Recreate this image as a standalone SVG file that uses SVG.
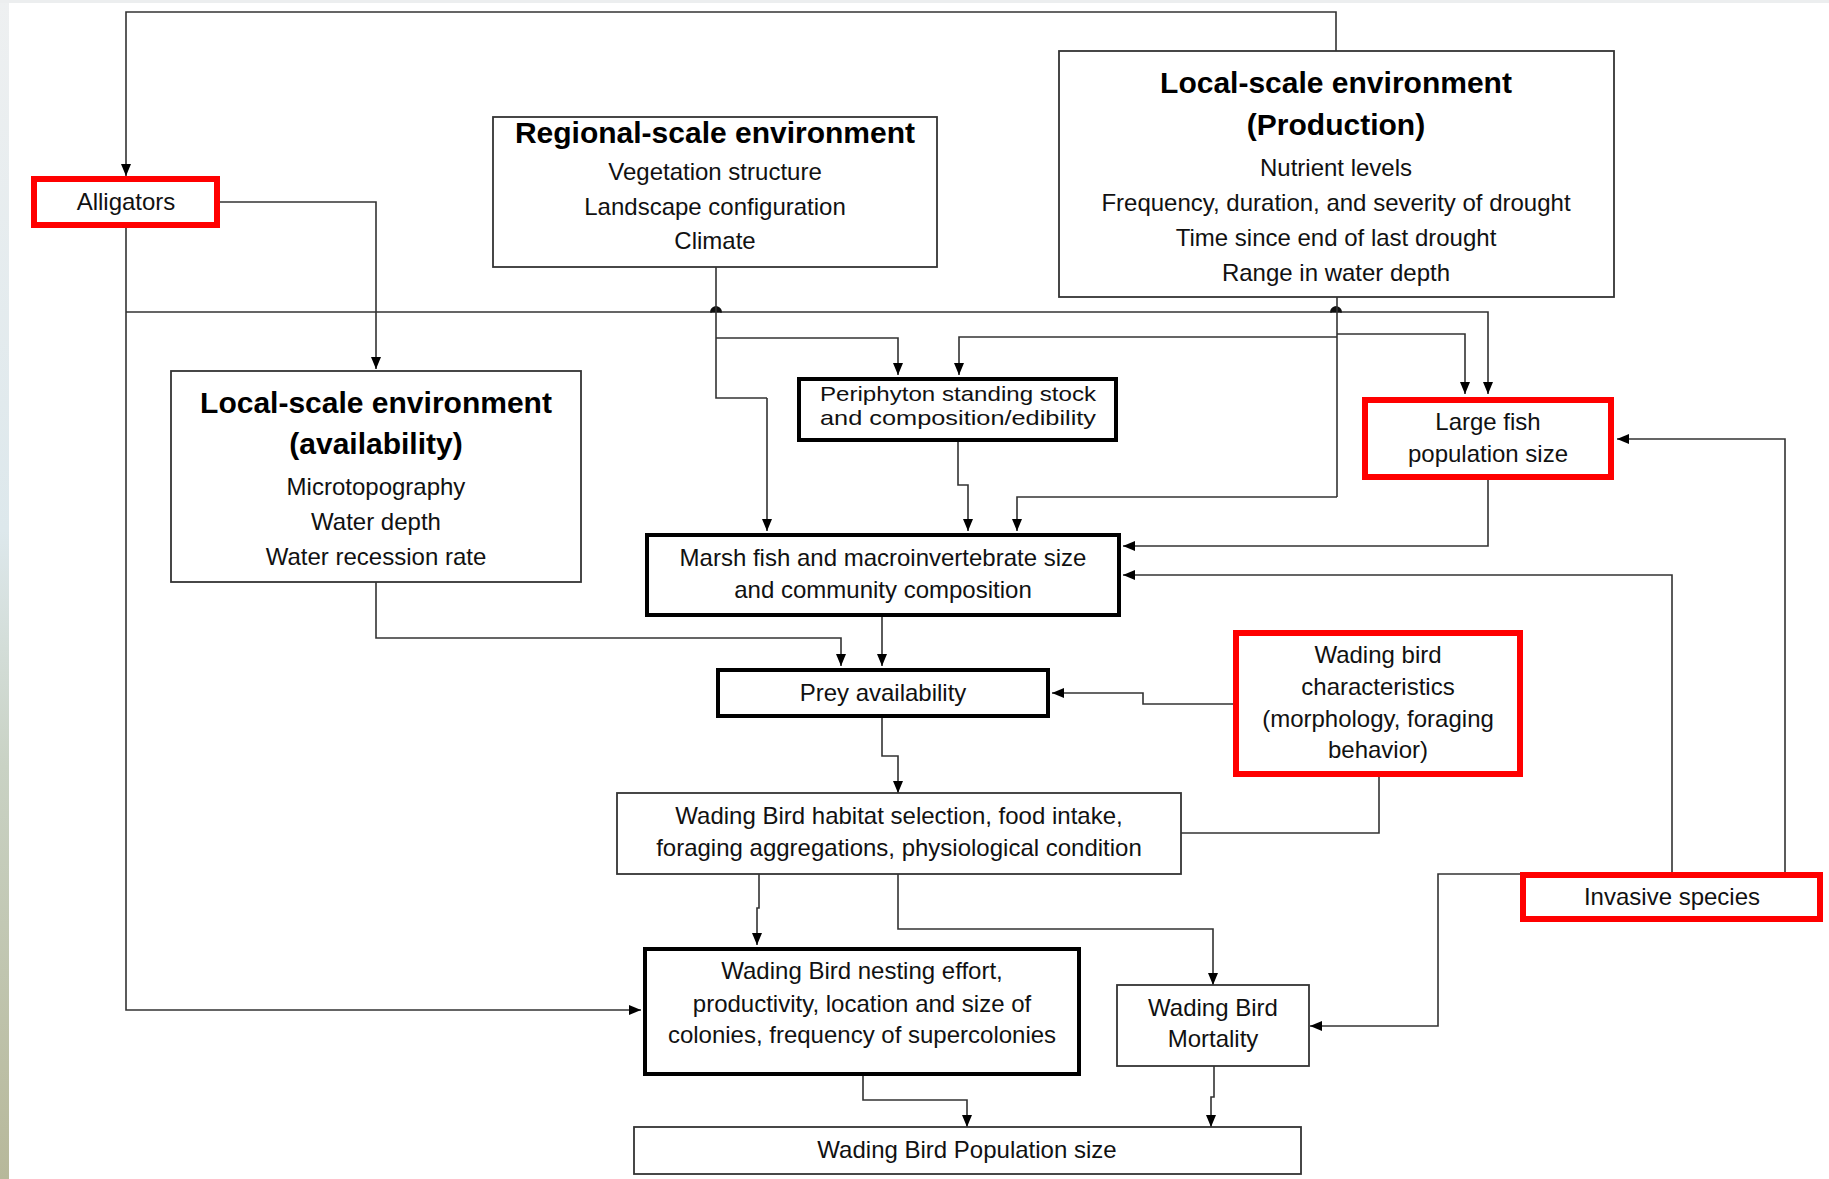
<svg xmlns="http://www.w3.org/2000/svg" width="1829" height="1179" viewBox="0 0 1829 1179">
<defs>
<marker id="arr" markerUnits="userSpaceOnUse" markerWidth="12" markerHeight="12" viewBox="0 0 12 12" refX="12" refY="6" orient="auto">
<path d="M0,1 L12,6 L0,11 Z" fill="#000"/>
</marker>
<linearGradient id="edge" x1="0" y1="0" x2="0" y2="1">
<stop offset="0" stop-color="#eef0f1"/>
<stop offset="0.45" stop-color="#dde8ec"/>
<stop offset="0.65" stop-color="#c9d2c4"/>
<stop offset="1" stop-color="#b7b89a"/>
</linearGradient>
</defs>
<style>
.thin{fill:#fff;stroke:#333;stroke-width:1.8}
.thick{fill:#fff;stroke:#000;stroke-width:4}
.red{fill:#fff;stroke:#ff0000;stroke-width:6}
.t{font-family:"Liberation Sans",Arial,sans-serif;font-size:24px;fill:#111;text-anchor:middle}
.p{font-family:"Liberation Sans",Arial,sans-serif;font-size:21px;fill:#111;text-anchor:middle}
.b{font-family:"Liberation Sans",Arial,sans-serif;font-size:30px;font-weight:bold;fill:#000;text-anchor:middle}
.c{fill:none;stroke:#333;stroke-width:1.6}
.a{marker-end:url(#arr)}
.hop{fill:#111;stroke:#111;stroke-width:1.5}
</style>
<rect x="0" y="0" width="1829" height="1179" fill="#fff"/>
<rect x="0" y="0" width="9" height="1179" fill="url(#edge)"/>
<rect x="0" y="0" width="1829" height="3" fill="#eceeef"/>

<g id="connectors">
<path class="c a" d="M1336,51 V12 H126 V176"/>
<path class="c a" d="M220,202 H376 V369"/>
<path class="c a" d="M126,228 V1010 H641"/>
<path class="c a" d="M126,312 H711 A5,5 0 0 1 721,312 H1331 A5,5 0 0 1 1341,312 H1488 V394"/>
<path class="hop" d="M711,312 A5,5 0 0 1 721,312 Z"/>
<path class="hop" d="M1331,312 A5,5 0 0 1 1341,312 Z"/>
<path class="c" d="M716,267 V398 H767"/>
<path class="c a" d="M767,398 V531"/>
<path class="c a" d="M716,338 H898 V375"/>
<path class="c" d="M1337,297 V497"/>
<path class="c a" d="M1337,337 H959 V375"/>
<path class="c a" d="M1337,334 H1465 V394"/>
<path class="c a" d="M1337,497 H1017 V531"/>
<path class="c a" d="M958,442 V485 H968 V531"/>
<path class="c a" d="M1488,480 V546 H1123"/>
<path class="c a" d="M1672,872 V575 H1123"/>
<path class="c a" d="M1785,872 V439 H1617"/>
<path class="c a" d="M1565,874 H1438 V1026 H1310"/>
<path class="c a" d="M376,582 V638 H841 V666"/>
<path class="c a" d="M882,617 V666"/>
<path class="c a" d="M1233,704 H1143 V693 H1052"/>
<path class="c a" d="M882,718 V756 H898 V793"/>
<path class="c" d="M1379,777 V833 H1181"/>
<path class="c a" d="M759,874 V908 H757 V945"/>
<path class="c a" d="M898,874 V929 H1213 V985"/>
<path class="c a" d="M863,1076 V1100 H967 V1127"/>
<path class="c a" d="M1214,1066 V1097 H1211 V1127"/>
</g>

<g id="alligators">
<rect class="red" x="34" y="179" width="183" height="46"/>
<text class="t" x="126" y="210">Alligators</text>
</g>

<g id="regional">
<rect class="thin" x="493" y="117" width="444" height="150"/>
<text class="b" x="715" y="143">Regional-scale environment</text>
<text class="t" x="715" y="180">Vegetation structure</text>
<text class="t" x="715" y="215">Landscape configuration</text>
<text class="t" x="715" y="249">Climate</text>
</g>

<g id="production">
<rect class="thin" x="1059" y="51" width="555" height="246"/>
<text class="b" x="1336" y="93">Local-scale environment</text>
<text class="b" x="1336" y="135">(Production)</text>
<text class="t" x="1336" y="176">Nutrient levels</text>
<text class="t" x="1336" y="211">Frequency, duration, and severity of drought</text>
<text class="t" x="1336" y="246">Time since end of last drought</text>
<text class="t" x="1336" y="281">Range in water depth</text>
</g>

<g id="availability">
<rect class="thin" x="171" y="371" width="410" height="211"/>
<text class="b" x="376" y="413">Local-scale environment</text>
<text class="b" x="376" y="454">(availability)</text>
<text class="t" x="376" y="495">Microtopography</text>
<text class="t" x="376" y="530">Water depth</text>
<text class="t" x="376" y="565">Water recession rate</text>
</g>

<g id="periphyton">
<rect class="thick" x="799" y="379" width="317" height="61"/>
<text class="p" x="958" y="401" textLength="276" lengthAdjust="spacingAndGlyphs">Periphyton standing stock</text>
<text class="p" x="958" y="425" textLength="276" lengthAdjust="spacingAndGlyphs">and composition/edibility</text>
</g>

<g id="largefish">
<rect class="red" x="1365" y="400" width="246" height="77"/>
<text class="t" x="1488" y="430">Large fish</text>
<text class="t" x="1488" y="462">population size</text>
</g>

<g id="marsh">
<rect class="thick" x="647" y="535" width="472" height="80"/>
<text class="t" x="883" y="566">Marsh fish and macroinvertebrate size</text>
<text class="t" x="883" y="598">and community composition</text>
</g>

<g id="prey">
<rect class="thick" x="718" y="670" width="330" height="46"/>
<text class="t" x="883" y="701">Prey availability</text>
</g>

<g id="characteristics">
<rect class="red" x="1236" y="633" width="284" height="141"/>
<text class="t" x="1378" y="663">Wading bird</text>
<text class="t" x="1378" y="695">characteristics</text>
<text class="t" x="1378" y="727">(morphology, foraging</text>
<text class="t" x="1378" y="758">behavior)</text>
</g>

<g id="habitat">
<rect class="thin" x="617" y="793" width="564" height="81"/>
<text class="t" x="899" y="824">Wading Bird habitat selection, food intake,</text>
<text class="t" x="899" y="856">foraging aggregations, physiological condition</text>
</g>

<g id="invasive">
<rect class="red" x="1523" y="875" width="297" height="44"/>
<text class="t" x="1672" y="905">Invasive species</text>
</g>

<g id="nesting">
<rect class="thick" x="645" y="949" width="434" height="125"/>
<text class="t" x="862" y="979">Wading Bird nesting effort,</text>
<text class="t" x="862" y="1012">productivity, location and size of</text>
<text class="t" x="862" y="1043">colonies, frequency of supercolonies</text>
</g>

<g id="mortality">
<rect class="thin" x="1117" y="985" width="192" height="81"/>
<text class="t" x="1213" y="1016">Wading Bird</text>
<text class="t" x="1213" y="1047">Mortality</text>
</g>

<g id="population">
<rect class="thin" x="634" y="1127" width="667" height="47"/>
<text class="t" x="967" y="1158">Wading Bird Population size</text>
</g>
</svg>
